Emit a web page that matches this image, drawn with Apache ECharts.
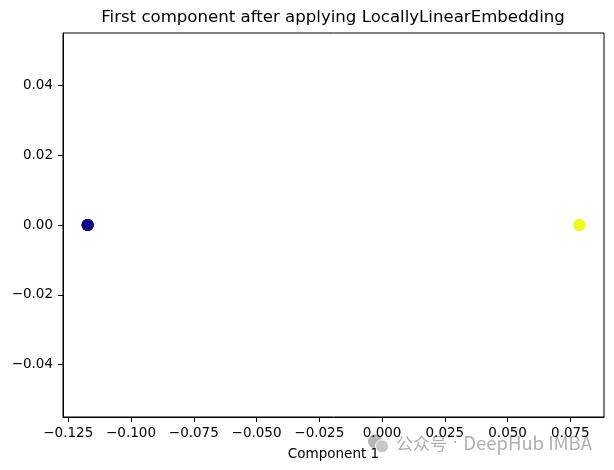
<!DOCTYPE html>
<html>
<head>
<meta charset="utf-8">
<script src="https://cdn.jsdelivr.net/npm/echarts@6/dist/echarts.min.js"></script>
<style>html,body{margin:0;padding:0;background:#fff}#c{width:614px;height:470px}</style>
</head>
<body>
<div id="c"></div>
<script>
// Data
const class0X = [-0.1173, -0.1173, -0.1173, -0.1173];
const class0Y = [0, 0, 0, 0];
const class1X = [0.0786, 0.0786, 0.0786, 0.0786];
const class1Y = [0, 0, 0, 0];
const xTicks = [-0.125, -0.1, -0.075, -0.05, -0.025, 0, 0.025, 0.05, 0.075];
const yTicks = [-0.04, -0.02, 0, 0.02, 0.04];
const xRange = [-0.1271, 0.0884];
const yRange = [-0.055, 0.055];
const titleText = 'First component after applying LocallyLinearEmbedding';
const xLabel = 'Component 1';

const font = 'DejaVu Sans';
const minus = s => s.replace('-', '\u2212');
const chart = echarts.init(document.getElementById('c'), null, {renderer: 'canvas'});
const pairs = (xs, ys) => xs.map((x, i) => [x, ys[i]]);

chart.setOption({
  animation: false,
  backgroundColor: '#ffffff',
  grid: {left: 63, right: 10, top: 33, bottom: 53, show: true, borderColor: '#000', borderWidth: 1, backgroundColor: 'transparent'},
  xAxis: {
    type: 'value', min: xRange[0], max: xRange[1],
    splitLine: {show: false},
    axisLine: {show: true, onZero: false, lineStyle: {color: '#000', width: 1}},
    axisTick: {show: true, length: 5, inside: false, lineStyle: {color: '#000'}, customValues: xTicks},
    axisLabel: {customValues: xTicks, color: '#000', fontFamily: font, fontSize: 13.5, margin: 9,
      formatter: v => minus(v.toFixed(3)), showMinLabel: true, showMaxLabel: true, hideOverlap: false},
    name: xLabel, nameLocation: 'middle', nameGap: 30,
    nameTextStyle: {color: '#000', fontFamily: font, fontSize: 13.5}
  },
  yAxis: {
    type: 'value', min: yRange[0], max: yRange[1],
    splitLine: {show: false},
    axisLine: {show: true, onZero: false, lineStyle: {color: '#000', width: 1}},
    axisTick: {show: true, length: 5, inside: false, lineStyle: {color: '#000'}, customValues: yTicks},
    axisLabel: {customValues: yTicks, color: '#000', fontFamily: font, fontSize: 13.5, margin: 10,
      formatter: v => minus(v.toFixed(2)), showMinLabel: true, showMaxLabel: true, hideOverlap: false}
  },
  series: [
    {type: 'scatter', data: pairs(class0X, class0Y), symbolSize: 12, itemStyle: {color: '#0d0887', opacity: 1}},
    {type: 'scatter', data: pairs(class1X, class1Y), symbolSize: 12, itemStyle: {color: '#f0f921', opacity: 1}}
  ],
  graphic: [
    {type: 'text', style: {text: titleText, x: 333, y: 18, textAlign: 'center', textVerticalAlign: 'middle',
      fill: '#000', font: '16.6px "DejaVu Sans"'}},
    {type: 'group', left: 368, top: 434, children: [
      {type: 'circle', shape: {cx: 8, cy: 7, r: 7}, style: {fill: '#b5b5b5'}},
      {type: 'circle', shape: {cx: 15, cy: 12, r: 6.5}, style: {fill: '#c8c8c8', stroke: '#fff', lineWidth: 1}},
      {type: 'text', style: {text: '{a|公众号}{b| · }{c|DeepHub IMBA}', x: 29, y: 9, textVerticalAlign: 'middle',
        rich: {
          a: {fill: '#b0b0b0', fontFamily: 'Noto Sans CJK SC', fontSize: 17},
          b: {fill: '#b0b0b0', fontFamily: 'DejaVu Sans', fontSize: 17},
          c: {fill: '#b0b0b0', fontFamily: 'Noto Sans CJK SC', fontSize: 18.5}
        }}}
    ]}
  ]
});
</script>
</body>
</html>
